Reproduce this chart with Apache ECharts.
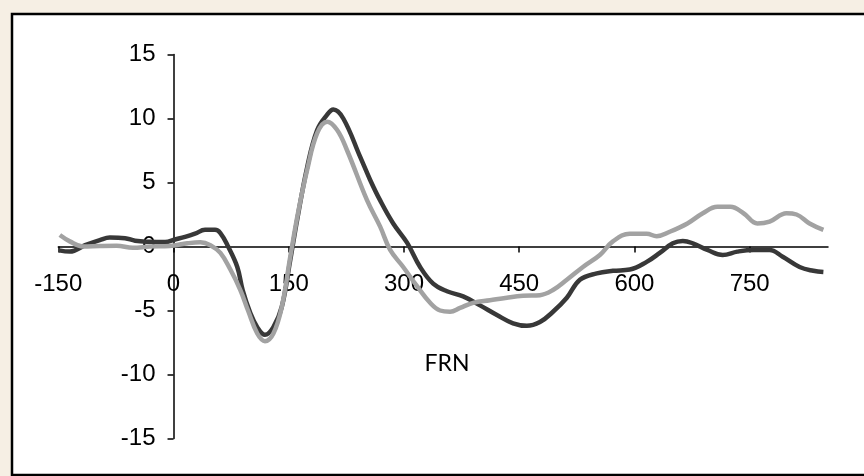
<!DOCTYPE html>
<html>
<head>
<meta charset="utf-8">
<script src="https://cdn.jsdelivr.net/npm/echarts@6/dist/echarts.min.js"></script>
<style>
  html, body {margin: 0; padding: 0; background: #f6efe4; overflow: hidden;}
  #chart {width: 864px; height: 476px;}
</style>
</head>
<body>
<div id="chart"></div>
<script>
// time (ms) / amplitude
const darkX = [-149, -135, -115, -96, -83, -63, -50, -31, -11, 2, 15, 28, 41, 54, 61, 71, 83, 90, 100, 109, 119, 130, 141, 152, 161, 174, 187, 200, 208, 221, 243, 256, 269, 286, 304, 321, 338, 356, 377, 399, 421, 442, 460, 477, 494, 512, 529, 551, 572, 594, 616, 633, 650, 663, 676, 695, 715, 734, 755, 776, 793, 815, 833, 846]
const darkY = [-0.3, -0.4, 0.1, 0.5, 0.7, 0.65, 0.45, 0.37, 0.35, 0.55, 0.75, 1.0, 1.3, 1.3, 1.05, 0, -1.6, -3.4, -5.2, -6.3, -6.9, -6.3, -4.7, -1.05, 2.1, 6.2, 9.1, 10.3, 10.7, 10.0, 7.0, 5.2, 3.6, 1.8, 0.3, -1.6, -2.9, -3.5, -3.9, -4.6, -5.35, -6.0, -6.2, -5.9, -5.1, -4.0, -2.6, -2.1, -1.9, -1.8, -1.2, -0.5, 0.25, 0.43, 0.25, -0.27, -0.66, -0.4, -0.27, -0.27, -0.8, -1.6, -1.9, -2.0]

const lightX = [-148, -135, -118, -96, -74, -53, -31, -5, 18, 35, 48, 61, 74, 87, 97, 109, 119, 130, 141, 152, 162, 174, 187, 200, 213, 226, 252, 269, 282, 299, 317, 334, 347, 360, 373, 390, 412, 434, 455, 477, 494, 512, 533, 555, 572, 594, 616, 629, 646, 669, 689, 708, 725, 742, 760, 776, 798, 811, 828, 846]
const lightY = [0.9, 0.4, 0, 0.04, 0.06, -0.1, 0, 0.04, 0.25, 0.33, 0.1, -0.5, -1.8, -3.4, -5.0, -6.8, -7.4, -6.8, -4.7, -0.8, 2.6, 6.0, 8.85, 9.75, 9.1, 7.5, 3.6, 1.55, -0.27, -1.6, -3.1, -4.4, -5.0, -5.1, -4.8, -4.4, -4.2, -4.0, -3.85, -3.8, -3.4, -2.6, -1.6, -0.66, 0.4, 1.0, 1.0, 0.8, 1.15, 1.8, 2.6, 3.1, 3.1, 2.6, 1.8, 1.95, 2.6, 2.5, 1.8, 1.3]

const xTicks = [-150, 0, 150, 300, 450, 600, 750]
const yTicks = [-15, -10, -5, 0, 5, 10, 15]

const xMin = -150, xMax = 852
const yMin = -15, yMax = 15

const zip = function (xs, ys) {
  return xs.map((x, i) => [x, ys[i]])
}

// grid box in pixels
const W = 864, H = 476
const gLeft = 58.3, gRight = 36, gTop = 54.5, gBottom = 37.5
const gW = W - gLeft - gRight, gH = H - gTop - gBottom

// axes cross at zero, shift the whole axis (line, ticks, labels) there
const yAxisOffset = -(0 - xMin) / (xMax - xMin) * gW
const xAxisOffset = -(0 - yMin) / (yMax - yMin) * gH

const chart = echarts.init(document.getElementById('chart'), null, {renderer: 'canvas'})

const labelStyle = {
  color: '#000',
  fontFamily: "'Liberation Sans', Arial, sans-serif",
  fontSize: 24,
}

chart.setOption({
  animation: false,
  backgroundColor: 'transparent',
  graphic: [
    {
      type: 'rect',
      z: -10,
      shape: {x: 12, y: 14, width: 880, height: 461},
      style: {fill: '#fff', stroke: '#000', lineWidth: 2.5},
    },
    {
      type: 'text',
      z: 10,
      x: 447,
      y: 364,
      style: {
        text: 'FRN',
        fill: '#000',
        font: "23px Lato, 'Open Sans', sans-serif",
        textAlign: 'center',
        textVerticalAlign: 'middle',
      },
    },
  ],
  grid: {left: gLeft, right: gRight, top: gTop, bottom: gBottom},
  xAxis: {
    type: 'value',
    min: xMin,
    max: xMax,
    interval: 150,
    position: 'bottom',
    offset: xAxisOffset,
    axisLine: {onZero: false, lineStyle: {color: '#000', width: 1.5}},
    axisTick: {show: true, inside: false, length: 6, customValues: xTicks, lineStyle: {color: '#000', width: 1.5}},
    axisLabel: {...labelStyle, margin: 26, customValues: xTicks},
    splitLine: {show: false},
  },
  yAxis: {
    type: 'value',
    min: yMin,
    max: yMax,
    interval: 5,
    position: 'left',
    offset: yAxisOffset,
    axisLine: {show: true, onZero: false, lineStyle: {color: '#000', width: 1.5}},
    axisTick: {show: true, inside: false, length: 6, customValues: yTicks, lineStyle: {color: '#000', width: 1.5}},
    axisLabel: {...labelStyle, margin: 18, customValues: yTicks},
    splitLine: {show: false},
  },
  series: [
    {
      name: 'dark',
      type: 'line',
      data: zip(darkX, darkY),
      smooth: 0.4,
      showSymbol: false,
      lineStyle: {color: '#383838', width: 4.5},
    },
    {
      name: 'light',
      type: 'line',
      data: zip(lightX, lightY),
      smooth: 0.4,
      showSymbol: false,
      lineStyle: {color: '#a2a2a2', width: 4.5},
    },
  ],
})
</script>
</body>
</html>
